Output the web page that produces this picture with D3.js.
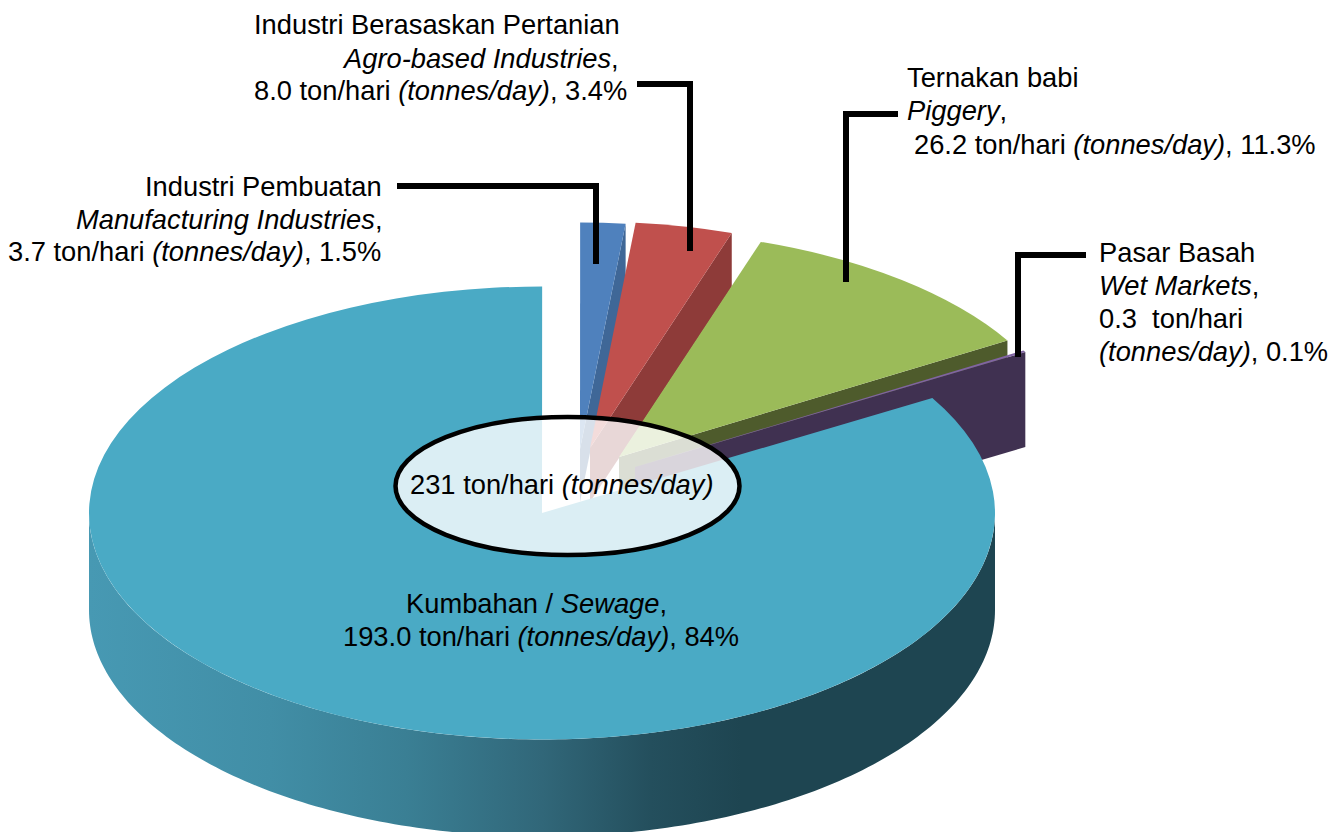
<!DOCTYPE html>
<html><head><meta charset="utf-8">
<script src="https://cdn.jsdelivr.net/npm/d3@7"></script>
<style>html,body{margin:0;padding:0;background:#fff;overflow:hidden}svg{display:block}
text{font-family:"Liberation Sans",Arial,sans-serif;font-size:27.3px;fill:#000}</style>
</head><body><svg id="c" width="1343" height="832"></svg>
<script>
// ---- data ----
const namesMalay = ["Kumbahan", "Industri Pembuatan", "Industri Berasaskan Pertanian", "Ternakan babi", "Pasar Basah"];
const namesEnglish = ["Sewage", "Manufacturing Industries", "Agro-based Industries", "Piggery", "Wet Markets"];
const tonnes = [193.0, 3.7, 8.0, 26.2, 0.3];
const percents = ["84%", "1.5%", "3.4%", "11.3%", "0.1%"];
const totalTonnes = 231;

// ---- layout ----
const topColors = ["#4aaac5", "#4f81bd", "#c0504d", "#9bbb59", "#8064a2"];
const wallColors = ["url(#sw)", "#3f6797", "#8e3b39", "#4e5b2c", "#403151"];
const apexX = [542, 580, 590, 619, 635];
const apexY = [513, 449, 448, 457, 467];
const depths = [97, 53, 54, 50, 95];
const rx = 453, ry = 226.5;
const firstAngle = 59.5 * Math.PI / 180;
const drawOrder = [1, 2, 3, 4, 0];

const svg = d3.select("#c");
const grad = svg.append("defs").append("linearGradient").attr("id", "sw")
  .attr("gradientUnits", "userSpaceOnUse").attr("x1", 89).attr("x2", 995).attr("y1", 0).attr("y2", 0);
[[0, "#4799b3"], [0.2, "#418ea6"], [0.35, "#3a7f94"], [0.5, "#316779"], [0.62, "#244f5d"], [0.72, "#1e4551"], [1, "#1e4551"]]
  .forEach(s => grad.append("stop").attr("offset", s[0]).attr("stop-color", s[1]));

const slices = d3.pie().sort(null).value(d => d).startAngle(firstAngle).endAngle(firstAngle + 2 * Math.PI)(tonnes);
const arc = d3.arc().innerRadius(0).outerRadius(rx);

drawOrder.forEach(i => {
  const s = slices[i], ax = apexX[i], ay = apexY[i], dp = depths[i];
  if (i === 0) {
    const angles = d3.range(Math.PI / 2, 1.5 * Math.PI + 0.001, Math.PI / 180);
    const wall = d3.area().x(a => ax + rx * Math.sin(a))
      .y0(a => ay - ry * Math.cos(a)).y1(a => ay - ry * Math.cos(a) + dp);
    svg.append("path").attr("d", wall(angles)).attr("fill", wallColors[i]);
  } else {
    const ex = ax + rx * Math.sin(s.endAngle), ey = ay - ry * Math.cos(s.endAngle);
    const p = d3.path();
    p.moveTo(ax, ay); p.lineTo(ex, ey); p.lineTo(ex, ey + dp); p.lineTo(ax, ay + dp); p.closePath();
    svg.append("path").attr("d", p.toString()).attr("fill", wallColors[i]);
  }
  svg.append("path").attr("d", arc(s)).attr("fill", topColors[i])
    .attr("transform", `translate(${ax},${ay}) scale(1,${ry / rx})`);
});

// centre ellipse
svg.append("ellipse").attr("cx", 567.5).attr("cy", 486).attr("rx", 172).attr("ry", 69)
  .attr("fill", "#fff").attr("fill-opacity", 0.8).attr("stroke", "#000").attr("stroke-width", 4.5);

// leader lines
const leaders = [
  [[397,186],[596,186],[596,264]],
  [[637,84],[690,84],[690,251]],
  [[898,114],[846,114],[846,282]],
  [[1086,255],[1018,255],[1018,357]]
];
const line = d3.line();
leaders.forEach(l => svg.append("path").attr("d", line(l)).attr("fill", "none")
  .attr("stroke", "#000").attr("stroke-width", 6).attr("stroke-linejoin", "miter"));

// labels: [x, baseline, [[text, italic], ...]]
const amt = (i, sp) => `${tonnes[i].toFixed(1)}${sp || " "}ton/hari `;
const T = "(tonnes/day)";
const labels = [
  [254, 34, [[namesMalay[2]]]],
  [344, 67.5, [[namesEnglish[2], 1], [","]]],
  [254, 100, [[amt(2)], [T, 1], [", " + percents[2]]]],
  [145, 196, [[namesMalay[1]]]],
  [76, 228.5, [[namesEnglish[1], 1], [","]]],
  [8, 261, [[amt(1)], [T, 1], [", " + percents[1]]]],
  [907, 87, [[namesMalay[3]]]],
  [907, 120, [[namesEnglish[3], 1], [","]]],
  [914, 154, [[amt(3)], [T, 1], [", " + percents[3]]]],
  [1099, 262, [[namesMalay[4]]]],
  [1099, 295, [[namesEnglish[4], 1], [","]]],
  [1099, 328, [[amt(4, "\u00a0 ")]]],
  [1099, 361, [[T, 1], [", " + percents[4]]]],
  [406, 613, [[namesMalay[0] + " / "], [namesEnglish[0], 1], [","]]],
  [343, 646, [[amt(0)], [T, 1], [", " + percents[0]]]],
  [410, 494, [[totalTonnes + " ton/hari "], [T, 1]]]
];
labels.forEach(([x, y, segs]) => {
  const t = svg.append("text").attr("x", x).attr("y", y).attr("xml:space", "preserve");
  segs.forEach(s => t.append("tspan").attr("font-style", s[1] ? "italic" : "normal").text(s[0]));
});
</script></body></html>
